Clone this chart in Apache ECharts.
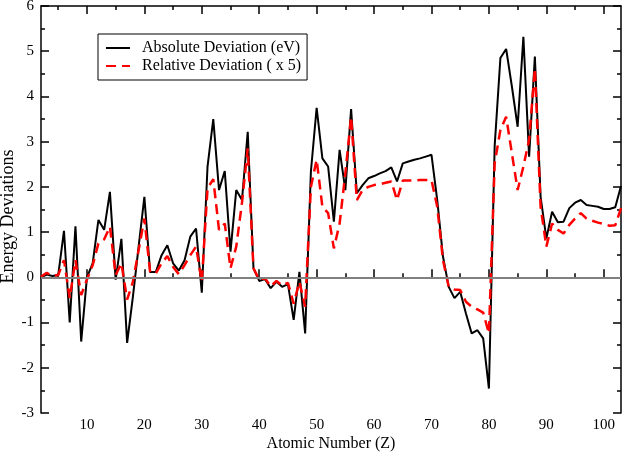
<!doctype html>
<html><head><meta charset="utf-8"></head>
<body style="margin:0;width:623px;height:452px">
<div id="main" style="width:623px;height:452px"></div>
<script src="https://cdn.jsdelivr.net/npm/echarts@6/dist/echarts.min.js"></script>
<script>
var atomicNumber = [2,3,4,5,6,7,8,9,10,11,12,13,14,15,16,17,18,19,20,21,22,23,24,25,26,27,28,29,30,
  31,32,33,34,35,36,37,38,39,40,41,42,43,44,45,46,47,48,49,50,51,52,53,54,55,56,57,58,59,60,
  61,62,63,64,65,66,67,68,69,70,71,72,73,74,75,76,77,78,79,80,81,82,83,84,85,86,87,88,89,90,
  91,92,93,94,95,96,97,98,99,100,101,102,103];
var absDeviation = [0.0,0.06,0.03,0.05,1.03,-1.0,1.13,-1.42,0.0,0.31,1.27,1.05,1.89,-0.05,0.85,-1.45,-0.43,0.68,1.78,
  0.12,0.12,0.49,0.71,0.31,0.15,0.38,0.9,1.08,-0.34,2.45,3.5,1.93,2.35,0.57,1.93,1.71,3.22,0.2,-0.08,
  -0.04,-0.24,-0.1,-0.21,-0.15,-0.94,0.12,-1.24,2.34,3.75,2.63,2.45,1.23,2.82,1.93,3.72,1.86,2.04,2.19,2.24,
  2.3,2.35,2.43,2.12,2.52,2.56,2.6,2.63,2.67,2.71,1.71,0.46,-0.21,-0.46,-0.32,-0.8,-1.24,-1.17,-1.35,-2.46,
  2.9,4.85,5.05,4.22,3.33,5.32,2.67,4.88,1.78,0.86,1.45,1.22,1.23,1.53,1.65,1.71,1.6,1.58,1.56,1.51,1.51,1.55,2.02];
var relDeviation = [0.01,0.1,0.03,0.05,0.38,-0.46,0.38,-0.39,-0.05,0.27,0.75,0.84,1.12,0.05,0.31,-0.49,-0.1,0.6,1.3,
  0.12,0.09,0.31,0.47,0.23,0.07,0.27,0.49,0.68,-0.1,1.97,2.17,1.05,1.19,0.2,0.68,1.65,2.85,0.2,-0.05,
  -0.02,-0.2,-0.08,-0.18,-0.12,-0.58,-0.1,-0.65,2.0,2.6,1.56,1.42,0.64,1.19,2.3,3.55,1.71,1.93,2.0,2.04,
  2.06,2.09,2.12,1.71,2.14,2.14,2.14,2.15,2.15,2.15,1.56,0.38,-0.21,-0.27,-0.28,-0.54,-0.65,-0.71,-0.78,-1.24,
  2.52,3.26,3.55,2.74,1.93,2.45,3.04,4.62,1.56,0.68,1.19,1.05,0.97,1.16,1.3,1.42,1.3,1.25,1.21,1.18,1.14,1.15,1.53];
var xMajorTicks = [10,20,30,40,50,60,70,80,90,100];
var xMinorTicks = [5,15,25,35,45,55,65,75,85,95];

var font = 'Liberation Serif';
var chart = echarts.init(document.getElementById('main'));

function pairs(ys) {
  return atomicNumber.map(function (z, i) { return [z, ys[i]]; });
}

function xAxisDef(pos, ticks, len, showLabel, showLine) {
  return {
    type: 'value', position: pos, min: 2, max: 103,
    axisLine: { show: showLine, lineStyle: { color: '#000', width: 1.5 } },
    axisTick: { show: true, inside: true, length: len, customValues: ticks, lineStyle: { color: '#000', width: 1.5 } },
    axisLabel: { show: showLabel, customValues: ticks, color: '#000', fontFamily: font, fontSize: 15, margin: 5 },
    splitLine: { show: false },
    name: showLabel ? 'Atomic Number (Z)' : '',
    nameLocation: 'middle', nameGap: 23, nameMoveOverlap: false,
    nameTextStyle: { color: '#000', fontFamily: font, fontSize: 16 }
  };
}

function yAxisDef(pos, showLabel) {
  return {
    type: 'value', position: pos, min: -3, max: 6, interval: 1,
    axisLine: { show: true, lineStyle: { color: '#000', width: 1.5 } },
    axisTick: { show: true, inside: true, length: 8, lineStyle: { color: '#000', width: 1.5 } },
    minorTick: { show: true, splitNumber: 2, length: 4, lineStyle: { color: '#000', width: 1.5 } },
    axisLabel: { show: showLabel, color: '#000', fontFamily: font, fontSize: 15, margin: 7 },
    splitLine: { show: false },
    name: showLabel ? 'Energy Deviations' : '',
    nameLocation: 'middle', nameGap: 24, nameRotate: 90, nameMoveOverlap: false,
    nameTextStyle: { color: '#000', fontFamily: font, fontSize: 18, padding: [0, 14, 0, 0] }
  };
}

var option = {
  animation: false,
  backgroundColor: '#fff',
  grid: { left: 41, right: 2, top: 6, bottom: 39, containLabel: false, outerBoundsMode: 'none' },
  legend: {
    left: 98, top: 34, orient: 'vertical',
    padding: [6, 6, 6, 7], itemGap: 2, itemWidth: 24, itemHeight: 12,
    borderColor: '#000', borderWidth: 1,
    itemStyle: { opacity: 0 },
    lineStyle: { opacity: 1 },
    textStyle: { color: '#000', fontFamily: font, fontSize: 16, padding: [0, 0, 0, 7] },
    data: ['Absolute Deviation (eV)', 'Relative Deviation ( x 5)']
  },
  xAxis: [
    xAxisDef('bottom', xMajorTicks, 8, true, true),
    xAxisDef('bottom', xMinorTicks, 4, false, false),
    xAxisDef('top', xMajorTicks, 8, false, true),
    xAxisDef('top', xMinorTicks, 4, false, false)
  ],
  yAxis: [ yAxisDef('left', true), yAxisDef('right', false) ],
  series: [
    {
      name: 'Absolute Deviation (eV)', type: 'line', data: pairs(absDeviation),
      symbol: 'none', lineStyle: { color: '#000', width: 2 }, itemStyle: { color: '#000' },
      markLine: {
        silent: true, symbol: 'none', label: { show: false },
        lineStyle: { color: '#808080', width: 2, type: 'solid' },
        data: [{ yAxis: 0 }]
      },
      z: 3
    },
    {
      name: 'Relative Deviation ( x 5)', type: 'line', data: pairs(relDeviation),
      symbol: 'none', lineStyle: { color: '#ff0000', width: 2.5, type: [10, 6] }, itemStyle: { color: '#ff0000' },
      z: 4
    }
  ]
};
chart.setOption(option);
</script>
</body></html>
